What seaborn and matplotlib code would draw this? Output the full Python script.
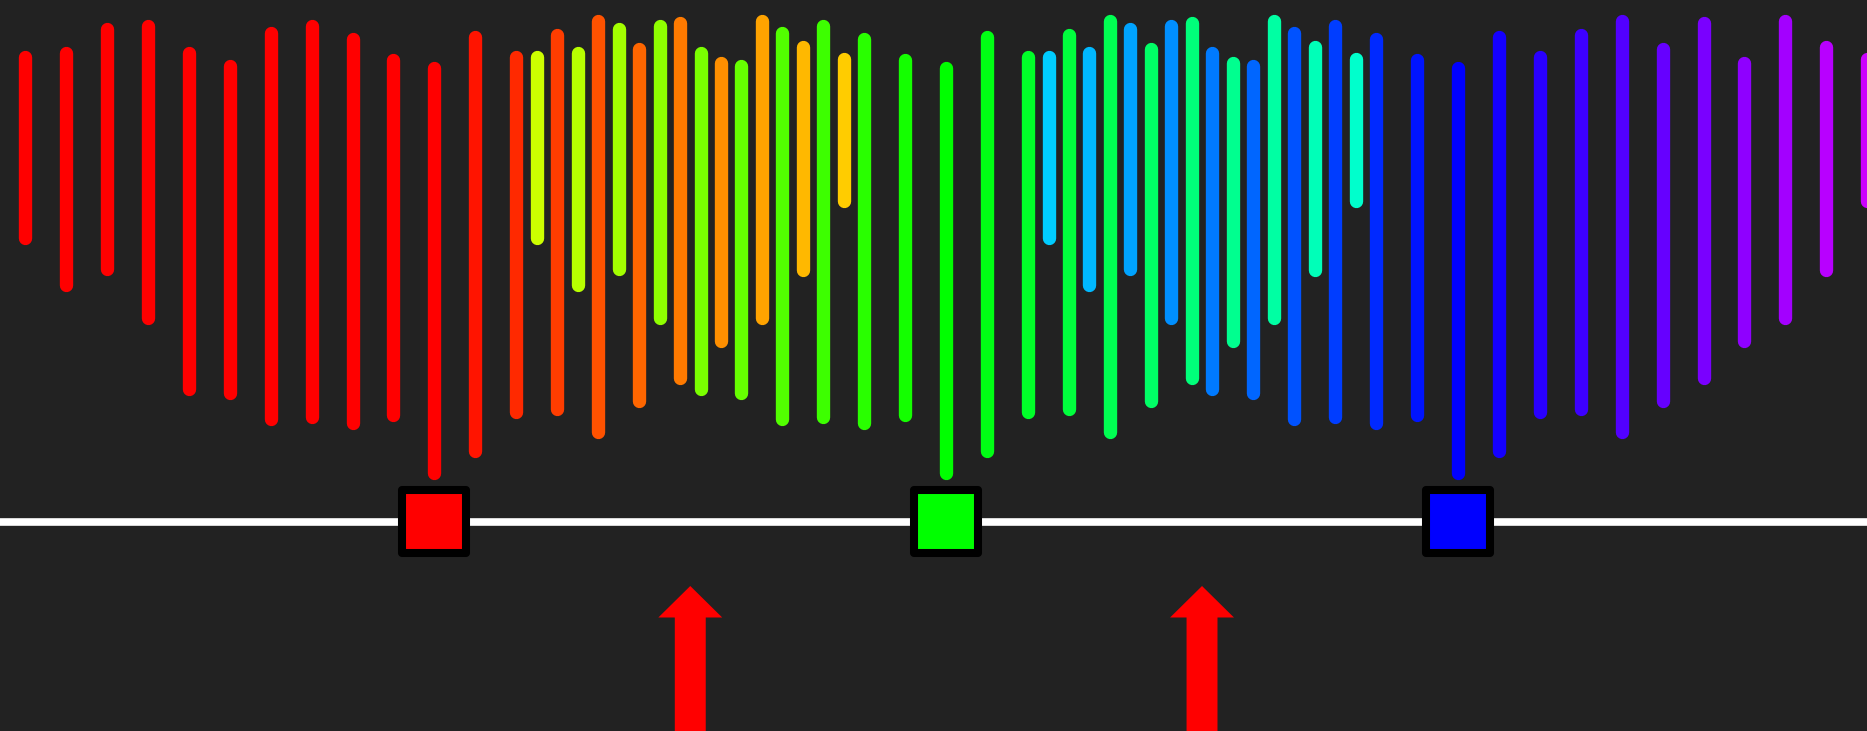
import numpy as np
import pandas as pd
import matplotlib
matplotlib.use("Agg")
import matplotlib.pyplot as plt
import seaborn as sns

# bar extents (height above the white line), same pattern in each hue group
bar_top = [465, 469, 493, 496, 469, 456, 489, 496, 483, 462, 454,
           485, 465, 487, 501, 473, 499, 459, 501, 475, 463]
bar_bottom = [284, 237, 253, 204, 133, 129, 103, 105, 99, 107, 49,
              71, 110, 113, 90, 121, 144, 181, 204, 252, 321]

# where each group starts, in bar steps
group_names = ['red', 'green', 'blue']
group_start = [0, 12.5, 25]
center_index = 10

red_colors = ['#ff0000', '#ff0000', '#ff0000', '#ff0000', '#ff0000', '#ff0000',
              '#ff0000', '#ff0000', '#ff0000', '#ff0000', '#ff0000', '#ff1400',
              '#ff2900', '#ff3d00', '#ff5200', '#ff6600', '#ff7a00', '#ff8f00',
              '#ffa300', '#ffb800', '#ffcc00']
green_colors = ['#ccff00', '#b8ff00', '#a3ff00', '#8fff00', '#7aff00', '#66ff00',
                '#52ff00', '#3dff00', '#29ff00', '#14ff00', '#00ff00', '#00ff14',
                '#00ff29', '#00ff3d', '#00ff52', '#00ff66', '#00ff7a', '#00ff8f',
                '#00ffa3', '#00ffb8', '#00ffcc']
blue_colors = ['#00ccff', '#00b8ff', '#00a3ff', '#008fff', '#007aff', '#0066ff',
               '#0052ff', '#003dff', '#0029ff', '#0014ff', '#0000ff', '#1400ff',
               '#2900ff', '#3d00ff', '#5200ff', '#6600ff', '#7a00ff', '#8f00ff',
               '#a300ff', '#b800ff', '#cc00ff']
marker_colors = ['#ff0000', '#00ff00', '#0000ff']

# build the bar table
rows = []
for name, start, cols in zip(group_names, group_start,
                             [red_colors, green_colors, blue_colors]):
    for k in range(len(bar_top)):
        rows.append({'group': name, 'x': start + k, 'top': bar_top[k],
                     'bottom': bar_bottom[k], 'color': cols[k]})
bars = pd.DataFrame(rows)

markers = pd.DataFrame({'name': group_names,
                        'x': [s + center_index for s in group_start],
                        'y': [0, 0, 0]})
arrow_x = (markers['x'].values[:-1] + markers['x'].values[1:]) / 2

sns.set_theme(style="dark", rc={"axes.facecolor": "#222222",
                                "figure.facecolor": "#222222"})

fig = plt.figure(figsize=(18.67, 7.31), dpi=100)
ax = fig.add_axes([0, 0, 1, 1])

# clip_on=False so the last bar, sitting on the right edge, still shows
ax.vlines(bars['x'], bars['bottom'], bars['top'], colors=bars['color'],
          linewidth=9.6, capstyle='round', zorder=1, clip_on=False)
ax.axhline(0, color='white', lw=5.5, zorder=2)
sns.scatterplot(data=markers, x='x', y='y', hue='name', palette=marker_colors,
                marker='s', s=2116, edgecolor='black', linewidth=5.8,
                legend=False, ax=ax, zorder=3)

for xa in arrow_x:
    ax.arrow(xa, -215, 0, 150.5, width=0.756, head_width=1.56, head_length=31.5,
             length_includes_head=True, color='#ff0000', lw=0, zorder=3)

step = 40.94
ax.set_xlim(-25 / step, 1842 / step)
ax.set_ylim(-209.5, 521.5)
ax.axis('off')

fig.savefig('out.png', dpi=100, facecolor='#222222')
